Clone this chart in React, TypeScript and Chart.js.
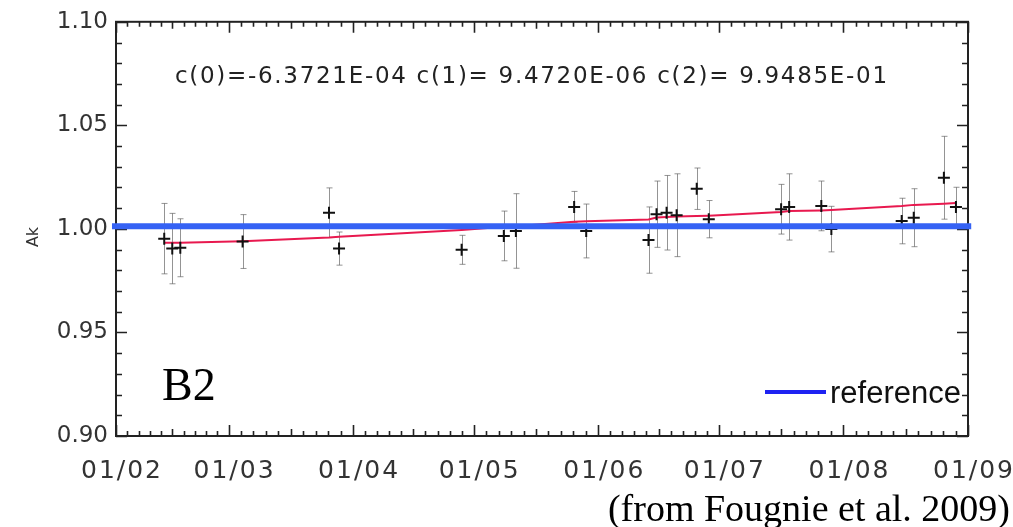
import React, { useEffect, useRef } from "react";
import { Chart, registerables } from "chart.js";

Chart.register(...registerables);

// Observation dates, as days counted from 1 February
const obsDays = [
  12, 14, 16, 31.5, 53, 55.5, 86, 96.5, 99.5, 114, 117, 132.5, 134.5, 137, 139.5,
  144.5, 147.5, 165.5, 167.5, 175.5, 178, 195.5, 198.5, 206, 209,
];

// Measured Ak calibration coefficient per date
const akValues = [
  0.9953, 0.9905, 0.9909, 0.9939, 1.0078, 0.9905, 0.9899, 0.9966, 0.999, 1.0106,
  0.999, 0.9946, 1.0071, 1.0078, 1.0066, 1.0194, 1.0047, 1.0095, 1.0106, 1.0111,
  0.9999, 1.0038, 1.0054, 1.0247, 1.0106,
];

// One-sigma uncertainty on each Ak value
const akErrors = [
  0.017, 0.017, 0.014, 0.013, 0.012, 0.008, 0.007, 0.012, 0.018, 0.0075, 0.013,
  0.016, 0.016, 0.018, 0.02, 0.01, 0.009, 0.012, 0.016, 0.012, 0.011, 0.011, 0.014,
  0.02, 0.0095,
];

// Fitted trend evaluated at each observation date
const fitValues = [
  0.9933, 0.9933, 0.9933, 0.994, 0.9958, 0.9962, 0.9995, 1.001, 1.0013, 1.0034,
  1.0037, 1.0045, 1.0055, 1.0058, 1.006, 1.0062, 1.0064, 1.0082, 1.0086, 1.0089,
  1.0091, 1.011, 1.0116, 1.0122, 1.0125,
];

// Reference calibration level and the span it is drawn over (days)
const referenceLevel = 1.0013;
const referenceSpan = [-1, 212.8];

// Time axis: first day of each month, and its dd/mm label
const monthStartDays = [0, 28, 59, 89, 120, 150, 181, 212];
const monthLabels = ["01/02", "01/03", "01/04", "01/05", "01/06", "01/07", "01/08", "01/09"];
const xRange = [0, 212];

// Value axis
const yTickValues = [0.9, 0.95, 1.0, 1.05, 1.1];
const yMinorStep = 0.01;
const yRange = [0.9, 1.1];

const coefText = "c(0)=-6.3721E-04 c(1)= 9.4720E-06 c(2)= 9.9485E-01";
const bandLabel = "B2";
const legendLabel = "reference";
const sourceText = "(from Fougnie et al. 2009)";
const yTitle = "Ak";

const W = 1013;
const H = 527;

// Frame, inward tick marks and error bars, drawn under the datasets
const underlay = {
  id: "underlay",
  beforeDatasetsDraw(chart: any) {
    const { ctx, chartArea: a, scales } = chart;
    const x = scales.x;
    const y = scales.y;
    ctx.save();

    // error bars
    ctx.strokeStyle = "rgba(90,90,90,0.65)";
    ctx.lineWidth = 1;
    obsDays.forEach((d, i) => {
      const px = Math.round(x.getPixelForValue(d)) + 0.5;
      const top = y.getPixelForValue(akValues[i] + akErrors[i]);
      const bot = y.getPixelForValue(akValues[i] - akErrors[i]);
      ctx.beginPath();
      ctx.moveTo(px, top);
      ctx.lineTo(px, bot);
      ctx.moveTo(px - 3, top);
      ctx.lineTo(px + 3, top);
      ctx.moveTo(px - 3, bot);
      ctx.lineTo(px + 3, bot);
      ctx.stroke();
    });

    // frame
    ctx.strokeStyle = "#222";
    ctx.lineWidth = 2;
    ctx.strokeRect(a.left, a.top, a.right - a.left, a.bottom - a.top);

    // y ticks, left and right
    ctx.lineWidth = 1.6;
    const nY = Math.round((yRange[1] - yRange[0]) / yMinorStep);
    for (let i = 0; i <= nY; i++) {
      const v = yRange[0] + i * yMinorStep;
      const py = Math.round(y.getPixelForValue(v)) + 0.5;
      const len = i % 5 === 0 ? 11 : 6;
      ctx.beginPath();
      ctx.moveTo(a.left, py);
      ctx.lineTo(a.left + len, py);
      ctx.moveTo(a.right, py);
      ctx.lineTo(a.right - len, py);
      ctx.stroke();
    }

    // x ticks, top and bottom: months with ten subdivisions
    for (let m = 0; m < monthStartDays.length; m++) {
      const d0 = monthStartDays[m];
      const px0 = Math.round(x.getPixelForValue(d0)) + 0.5;
      ctx.beginPath();
      ctx.moveTo(px0, a.bottom);
      ctx.lineTo(px0, a.bottom - 11);
      ctx.moveTo(px0, a.top);
      ctx.lineTo(px0, a.top + 11);
      ctx.stroke();
      if (m < monthStartDays.length - 1) {
        const d1 = monthStartDays[m + 1];
        for (let k = 1; k < 10; k++) {
          const px = Math.round(x.getPixelForValue(d0 + ((d1 - d0) * k) / 10)) + 0.5;
          const len = k === 5 ? 7 : 5;
          ctx.beginPath();
          ctx.moveTo(px, a.bottom);
          ctx.lineTo(px, a.bottom - len);
          ctx.moveTo(px, a.top);
          ctx.lineTo(px, a.top + len);
          ctx.stroke();
        }
      }
    }
    ctx.restore();
  },
  afterDraw(chart: any) {
    const { ctx, chartArea: a, scales } = chart;
    const x = scales.x;
    ctx.save();

    // month labels under the time axis
    ctx.fillStyle = "#333";
    ctx.font = '25px "DejaVu Sans"';
    ctx.textAlign = "center";
    ctx.textBaseline = "alphabetic";
    (ctx as any).letterSpacing = "2px";
    monthStartDays.forEach((d, i) => {
      ctx.fillText(monthLabels[i], x.getPixelForValue(d) + 6, a.bottom + 42);
    });

    // fit coefficients
    ctx.textAlign = "left";
    ctx.fillStyle = "#222";
    ctx.font = '23px "DejaVu Sans"';
    (ctx as any).letterSpacing = "1.7px";
    ctx.fillText(coefText, 175, 83);
    (ctx as any).letterSpacing = "0px";

    // band label
    ctx.fillStyle = "#000";
    ctx.font = '46px "Liberation Serif"';
    ctx.fillText(bandLabel, 162, 400);

    // legend
    ctx.strokeStyle = "#1e22f2";
    ctx.lineWidth = 4;
    ctx.beginPath();
    ctx.moveTo(765, 392);
    ctx.lineTo(826, 392);
    ctx.stroke();
    ctx.fillStyle = "#111";
    ctx.font = '31px "Liberation Sans"';
    ctx.fillText(legendLabel, 830, 403);

    // source note
    ctx.fillStyle = "#000";
    ctx.font = '38px "Liberation Serif"';
    ctx.textAlign = "right";
    ctx.fillText(sourceText, 1010, 521);

    // y title
    ctx.translate(34, 237);
    ctx.rotate(-Math.PI / 2);
    ctx.textAlign = "center";
    ctx.textBaseline = "middle";
    ctx.fillStyle = "#333";
    ctx.font = '16px "DejaVu Sans"';
    ctx.fillText(yTitle, 0, 0);
    ctx.restore();
  },
};

export default function App() {
  const ref = useRef<HTMLCanvasElement | null>(null);

  useEffect(() => {
    if (!ref.current) return;
    const chart = new Chart(ref.current, {
      type: "scatter",
      data: {
        datasets: [
          {
            label: legendLabel,
            data: referenceSpan.map((d) => ({ x: d, y: referenceLevel })),
            showLine: true,
            borderColor: "#3562f4",
            borderWidth: 6,
            pointRadius: 0,
            clip: false as any,
            order: 0,
          },
          {
            label: "Ak",
            data: obsDays.map((d, i) => ({ x: d, y: akValues[i] })),
            pointStyle: "cross",
            pointRadius: 6,
            pointBorderWidth: 2,
            borderColor: "#111",
            backgroundColor: "#111",
            showLine: false,
            order: 1,
          },
          {
            label: "fit",
            data: obsDays.map((d, i) => ({ x: d, y: fitValues[i] })),
            showLine: true,
            borderColor: "#e8194f",
            borderWidth: 2,
            pointRadius: 0,
            order: 2,
          },
        ],
      },
      options: {
        animation: false,
        responsive: false,
        devicePixelRatio: 1,
        layout: { padding: { top: 20, right: 45, left: 0, bottom: 0 } },
        plugins: { legend: { display: false }, tooltip: { enabled: false } },
        scales: {
          x: {
            type: "linear",
            min: xRange[0],
            max: xRange[1],
            grid: { display: false, drawTicks: false },
            border: { display: false },
            afterBuildTicks: (s: any) => {
              s.ticks = monthStartDays.map((v) => ({ value: v }));
            },
            afterFit: (s: any) => {
              s.height = 91;
            },
            ticks: { display: false },
          },
          y: {
            type: "linear",
            min: yRange[0],
            max: yRange[1],
            grid: { display: false, drawTicks: false },
            border: { display: false },
            afterBuildTicks: (s: any) => {
              s.ticks = yTickValues.map((v) => ({ value: v }));
            },
            afterFit: (s: any) => {
              s.width = 116;
            },
            ticks: {
              padding: 8,
              color: "#333",
              font: { family: "DejaVu Sans", size: 23 },
              callback: (v: any) => Number(v).toFixed(2),
            },
          },
        },
      },
      plugins: [underlay],
    });
    return () => chart.destroy();
  }, []);

  return (
    <div style={{ position: "absolute", left: 0, top: 0, width: W, height: H, background: "#fff" }}>
      <canvas ref={ref} width={W} height={H} style={{ display: "block" }} />
    </div>
  );
}
